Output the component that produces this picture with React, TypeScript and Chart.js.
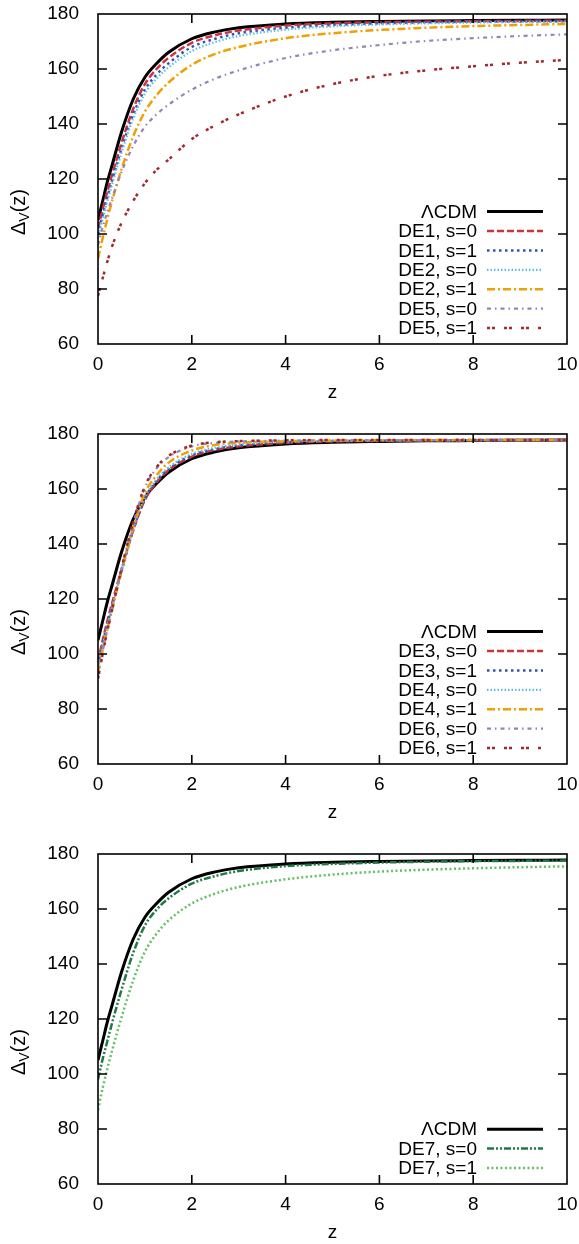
import React, { useEffect, useRef } from "react";
import { Chart, registerables } from "chart.js";

Chart.register(...registerables);

// ---------------- data ----------------
const Z = [0, 0.1, 0.2, 0.3, 0.5, 0.75, 1, 1.25, 1.5, 2, 2.5, 3, 4, 5, 6, 7, 8, 9, 10];

const LCDM = [105, 112, 119, 125, 137, 149, 157, 162, 166, 171, 173.5, 175, 176.4, 177, 177.3, 177.5, 177.6, 177.7, 177.8];

// panel 1
const DE1_S0 = [102, 109, 115.5, 121.5, 133, 145.5, 154.5, 160, 164, 169.5, 172.3, 174, 175.8, 176.6, 177, 177.2, 177.4, 177.5, 177.6];
const DE1_S1 = [100, 107, 113.5, 119.5, 131, 143.5, 152.5, 158, 162, 168, 171, 173, 175, 176, 176.6, 177, 177.2, 177.3, 177.4];
const DE2_S0 = [98.5, 105.5, 112, 118, 129.5, 142, 151, 156.5, 160.5, 166.5, 169.8, 172, 174.3, 175.5, 176.2, 176.6, 176.9, 177.1, 177.2];
const DE2_S1 = [91, 98.5, 105.5, 112, 123.5, 135.5, 144.5, 150.5, 155, 161.5, 165.5, 168, 171.2, 173, 174.2, 175, 175.6, 176, 176.4];
const DE5_S0 = [96, 102.5, 108, 113, 122.5, 132, 139, 143.5, 147, 152.5, 156.5, 159.5, 164, 166.8, 168.7, 170.2, 171.2, 172, 172.6];
const DE5_S1 = [77.5, 84, 90, 95.5, 104, 112, 118.5, 123.3, 127, 134.5, 139.5, 143.5, 150, 154.5, 157.5, 159.5, 161, 162.3, 163.3];

// panel 2
const DE3_S0 = [97, 105, 112, 118.5, 130.5, 145, 156, 162.5, 166.8, 171.8, 174.2, 175.5, 176.8, 177.3, 177.5, 177.6, 177.7, 177.8, 177.8];
const DE3_S1 = [96, 104, 111, 117.5, 130, 145, 156.5, 163, 167.2, 172.2, 174.5, 175.8, 177, 177.4, 177.6, 177.7, 177.8, 177.8, 177.8];
const DE4_S0 = [95, 103, 110.5, 117, 130, 145.5, 157, 163.5, 167.8, 172.8, 175, 176.2, 177.2, 177.5, 177.7, 177.8, 177.8, 177.8, 177.8];
const DE4_S1 = [93, 101.5, 109, 116, 130, 146, 158.5, 165, 169.5, 174, 176, 176.8, 177.4, 177.6, 177.7, 177.8, 177.8, 177.8, 177.8];
const DE6_S0 = [92, 101, 109, 116.5, 131, 147.5, 160.5, 167.5, 171.5, 175.5, 176.8, 177.3, 177.6, 177.7, 177.8, 177.8, 177.8, 177.8, 177.8];
const DE6_S1 = [91, 100, 108.5, 116, 131, 148, 161, 168, 172, 175.8, 177, 177.4, 177.7, 177.8, 177.8, 177.8, 177.8, 177.8, 177.8];

// panel 3
const DE7_S0 = [98, 105.5, 112, 118.5, 130.5, 144, 154, 159.8, 163.8, 169.2, 172, 173.8, 175.6, 176.4, 176.9, 177.2, 177.4, 177.5, 177.6];
const DE7_S1 = [87, 95, 102, 108.5, 120.5, 134, 144.5, 151, 155.8, 162, 165.6, 168, 170.8, 172.5, 173.6, 174.3, 174.8, 175.2, 175.5];

const X_TICKS = [0, 2, 4, 6, 8, 10];
const Y_TICKS = [60, 80, 100, 120, 140, 160, 180];

const FONT = "'Liberation Sans', Arial, Helvetica, sans-serif";

type Series = { label: string; values: number[]; color: string; dash: number[]; width: number };

const LCDM_SERIES: Series = { label: "\u039BCDM", values: LCDM, color: "#000000", dash: [], width: 3 };

const PANEL1: Series[] = [
  LCDM_SERIES,
  { label: "DE1, s=0", values: DE1_S0, color: "#d2303a", dash: [7, 3], width: 2.5 },
  { label: "DE1, s=1", values: DE1_S1, color: "#3552b0", dash: [2.5, 3.5], width: 2.5 },
  { label: "DE2, s=0", values: DE2_S0, color: "#5cc0e4", dash: [1.5, 2], width: 2.2 },
  { label: "DE2, s=1", values: DE2_S1, color: "#f0a000", dash: [8, 3, 2, 3], width: 2.5 },
  { label: "DE5, s=0", values: DE5_S0, color: "#9484b8", dash: [4, 4, 1.5, 4], width: 2.2 },
  { label: "DE5, s=1", values: DE5_S1, color: "#a02830", dash: [3, 2, 3, 9], width: 2.5 },
];

const PANEL2: Series[] = [
  LCDM_SERIES,
  { label: "DE3, s=0", values: DE3_S0, color: "#d2303a", dash: [7, 3], width: 2.5 },
  { label: "DE3, s=1", values: DE3_S1, color: "#3552b0", dash: [2.5, 3.5], width: 2.5 },
  { label: "DE4, s=0", values: DE4_S0, color: "#5cc0e4", dash: [1.5, 2], width: 2.2 },
  { label: "DE4, s=1", values: DE4_S1, color: "#f0a000", dash: [8, 3, 2, 3], width: 2.5 },
  { label: "DE6, s=0", values: DE6_S0, color: "#9484b8", dash: [4, 4, 1.5, 4], width: 2.2 },
  { label: "DE6, s=1", values: DE6_S1, color: "#a02830", dash: [3, 2, 3, 9], width: 2.5 },
];

const PANEL3: Series[] = [
  LCDM_SERIES,
  { label: "DE7, s=0", values: DE7_S0, color: "#1f7a45", dash: [7, 2, 2, 2, 2, 2], width: 2.5 },
  { label: "DE7, s=1", values: DE7_S1, color: "#62c062", dash: [2, 2.5], width: 2.5 },
];

// ---------------- plugins ----------------
const decorPlugin = {
  id: "decor",
  afterDatasetsDraw(chart: any, _args: any, opts: any) {
    const ctx = chart.ctx as CanvasRenderingContext2D;
    const { left, right, top, bottom } = chart.chartArea;
    const xs = chart.scales.x;
    const ys = chart.scales.y;
    ctx.save();
    // frame
    ctx.strokeStyle = "#000";
    ctx.lineWidth = 1.6;
    ctx.setLineDash([]);
    ctx.strokeRect(left, top, right - left, bottom - top);
    // inner ticks (mirrored)
    const tl = 9;
    ctx.beginPath();
    for (const v of X_TICKS) {
      if (v <= 0 || v >= 10) continue;
      const px = xs.getPixelForValue(v);
      ctx.moveTo(px, bottom);
      ctx.lineTo(px, bottom - tl);
      ctx.moveTo(px, top);
      ctx.lineTo(px, top + tl);
    }
    for (const v of Y_TICKS) {
      if (v <= 60 || v >= 180) continue;
      const py = ys.getPixelForValue(v);
      ctx.moveTo(left, py);
      ctx.lineTo(left + tl, py);
      ctx.moveTo(right, py);
      ctx.lineTo(right - tl, py);
    }
    ctx.stroke();

    // legend (inside, bottom right)
    const series: Series[] = opts.series;
    const rowH = 19.4;
    const n = series.length;
    const lastY = bottom - 16;
    ctx.font = `19px ${FONT}`;
    ctx.textAlign = "right";
    ctx.textBaseline = "middle";
    series.forEach((s, i) => {
      const y = lastY - (n - 1 - i) * rowH;
      ctx.fillStyle = "#000";
      ctx.fillText(s.label, 477, y + 1);
      ctx.strokeStyle = s.color;
      ctx.lineWidth = s.width;
      ctx.setLineDash(s.dash);
      ctx.beginPath();
      ctx.moveTo(487, y);
      ctx.lineTo(543, y);
      ctx.stroke();
    });
    ctx.setLineDash([]);

    // x title
    ctx.fillStyle = "#000";
    ctx.textAlign = "center";
    ctx.textBaseline = "middle";
    ctx.font = `19px ${FONT}`;
    ctx.fillText("z", (left + right) / 2, bottom + 49);

    // y title: Δ_V(z), rotated
    ctx.translate(25, (top + bottom) / 2 + 33);
    ctx.rotate(-Math.PI / 2);
    ctx.textAlign = "left";
    ctx.textBaseline = "alphabetic";
    const parts = [
      { t: "\u0394", size: 20, dy: 0 },
      { t: "V", size: 14, dy: 4 },
      { t: "(z)", size: 20, dy: 0 },
    ];
    let total = 0;
    for (const p of parts) {
      ctx.font = `${p.size}px ${FONT}`;
      total += ctx.measureText(p.t).width;
    }
    let x = -total / 2;
    for (const p of parts) {
      ctx.font = `${p.size}px ${FONT}`;
      ctx.fillText(p.t, x, p.dy);
      x += ctx.measureText(p.t).width;
    }
    ctx.restore();
  },
};

// ---------------- component ----------------
function Panel({ series, height, top }: { series: Series[]; height: number; top: number }) {
  const ref = useRef<HTMLCanvasElement | null>(null);
  useEffect(() => {
    if (!ref.current) return;
    const datasets = series
      .slice()
      .reverse()
      .map((s) => ({
        label: s.label,
        data: Z.map((z, i) => ({ x: z, y: s.values[i] })),
        borderColor: s.color,
        borderWidth: s.width,
        borderDash: s.dash,
        pointRadius: 0,
        fill: false,
        cubicInterpolationMode: "monotone" as const,
      }));
    const chart = new Chart(ref.current, {
      type: "line",
      data: { datasets },
      plugins: [decorPlugin],
      options: {
        animation: false,
        responsive: false,
        devicePixelRatio: 1,
        layout: { padding: { left: 0, right: 12, top: 14, bottom: 0 } },
        plugins: {
          legend: { display: false },
          tooltip: { enabled: false },
          decor: { series },
        } as any,
        scales: {
          x: {
            type: "linear",
            min: 0,
            max: 10,
            grid: { display: false },
            border: { display: false },
            afterBuildTicks: (sc: any) => {
              sc.ticks = X_TICKS.map((v) => ({ value: v }));
            },
            afterFit: (sc: any) => {
              sc.height = height - 344;
              sc.paddingLeft = 0;
              sc.paddingRight = 0;
            },
            ticks: {
              padding: 1,
              color: "#000",
              font: { family: FONT, size: 19 },
              maxRotation: 0,
              autoSkip: false,
            },
          },
          y: {
            type: "linear",
            min: 60,
            max: 180,
            grid: { display: false },
            border: { display: false },
            afterBuildTicks: (sc: any) => {
              sc.ticks = Y_TICKS.map((v) => ({ value: v }));
            },
            afterFit: (sc: any) => {
              sc.width = 98;
              sc.paddingTop = 0;
              sc.paddingBottom = 0;
            },
            ticks: {
              padding: 11,
              color: "#000",
              font: { family: FONT, size: 19 },
            },
          },
        },
      } as any,
    });
    return () => chart.destroy();
  }, [series, height]);
  return (
    <canvas
      ref={ref}
      width={579}
      height={height}
      style={{ position: "absolute", left: 0, top, width: 579, height, display: "block" }}
    />
  );
}

export default function App() {
  return (
    <div style={{ position: "absolute", left: 0, top: 0, width: 579, height: 1244, background: "#fff", overflow: "hidden" }}>
      <Panel series={PANEL1} height={420} top={0} />
      <Panel series={PANEL2} height={420} top={420} />
      <Panel series={PANEL3} height={404} top={840} />
    </div>
  );
}
